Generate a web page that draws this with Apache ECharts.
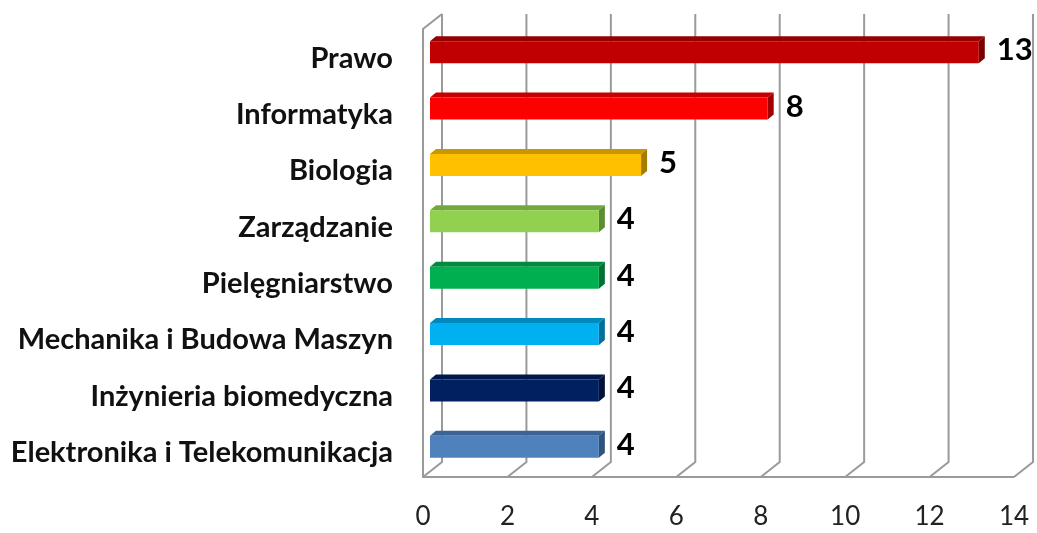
<!DOCTYPE html>
<html>
<head>
<meta charset="utf-8">
<script src="https://cdn.jsdelivr.net/npm/echarts@6/dist/echarts.min.js"></script>
<style>
  html, body { margin: 0; padding: 0; background: #fff; }
  #chart { width: 1037px; height: 533px; }
</style>
</head>
<body>
<div id="chart"></div>
<script>
var categories = [
  "Prawo",
  "Informatyka",
  "Biologia",
  "Zarządzanie",
  "Pielęgniarstwo",
  "Mechanika i Budowa Maszyn",
  "Inżynieria biomedyczna",
  "Elektronika i Telekomunikacja"
];
var values = [13, 8, 5, 4, 4, 4, 4, 4];
var ticks = [0, 2, 4, 6, 8, 10, 12, 14];

// front / top / side shades for each bar
var frontColors = ["#C00000", "#FF0000", "#FFC000", "#92D050", "#00B050", "#00B0F0", "#002060", "#4F81BD"];
var topColors = ["#960000", "#C40000", "#C99700", "#72A83C", "#008A3E", "#0089BC", "#00184A", "#3B6494"];
var sideColors = ["#7A0000", "#A00000", "#A67C00", "#5E8C30", "#007033", "#00709A", "#00123A", "#31527A"];

var lineColor = "#9a9a9a";
var depthX = 6, depthY = 5;

function renderFrame(params, api) {
  var cs = params.coordSys;
  var v = api.value(0);
  var x = api.coord([v, 0])[0];
  var frontY = cs.y + cs.height - 4;
  var backY = cs.y + cs.height - 19;
  var topY = cs.y - 16;
  var ls = { stroke: lineColor, lineWidth: 2, fill: null };
  var children = [
    { type: "polyline", shape: { points: [[x - 7, frontY], [x + 12, backY], [x + 12, topY]] }, style: ls }
  ];
  if (params.dataIndex === 0) {
    var xEnd = api.coord([ticks[ticks.length - 1], 0])[0];
    children.push({ type: "polyline", shape: { points: [[x + 12, topY], [x - 7, cs.y - 1], [x - 7, frontY], [xEnd - 7, frontY]] }, style: ls });
  }
  return { type: "group", children: children };
}

function renderBar(params, api) {
  var i = api.value(1);
  var v = api.value(0);
  var s = api.coord([0, i]);
  var e = api.coord([v, i]);
  var top = s[1] - 17, h = 22;
  var x0 = s[0], x1 = e[0];
  return {
    type: "group",
    children: [
      { type: "polygon", shape: { points: [[x0, top], [x0 + depthX, top - depthY], [x1 + depthX, top - depthY], [x1, top]] }, style: { fill: topColors[i] } },
      { type: "polygon", shape: { points: [[x1, top], [x1 + depthX, top - depthY], [x1 + depthX, top + h - depthY], [x1, top + h]] }, style: { fill: sideColors[i] } },
      { type: "rect", shape: { x: x0, y: top, width: x1 - x0, height: h }, style: { fill: frontColors[i] } },
      { type: "text", style: { text: String(v), x: x1 + depthX + 12, y: top + h / 2 - 2, verticalAlign: "middle", align: "left", fontSize: 31, fontWeight: "bold", fontFamily: "Lato", fill: "#000" } }
    ]
  };
}

var chart = echarts.init(document.getElementById("chart"));
chart.setOption({
  animation: false,
  grid: { left: 430, right: 16, top: 30, bottom: 52, containLabel: false },
  xAxis: {
    type: "value",
    min: 0,
    max: 14,
    interval: 2,
    axisLine: { show: false },
    axisTick: { show: false },
    splitLine: { show: false },
    axisLabel: { margin: 23, fontSize: 26, fontFamily: "Lato", color: "#222", padding: [0, 14, 0, 0] }
  },
  yAxis: {
    type: "category",
    data: categories,
    inverse: true,
    axisLine: { show: false },
    axisTick: { show: false },
    axisLabel: { margin: 37, fontSize: 29, fontWeight: "bold", fontFamily: "Lato", color: "#111" }
  },
  series: [
    { type: "custom", renderItem: renderFrame, clip: false, z: 1, silent: true, data: ticks.map(function (t) { return [t, 0]; }) },
    { type: "custom", renderItem: renderBar, clip: false, z: 2, data: values.map(function (v, i) { return [v, i]; }) }
  ]
});
</script>
</body>
</html>
